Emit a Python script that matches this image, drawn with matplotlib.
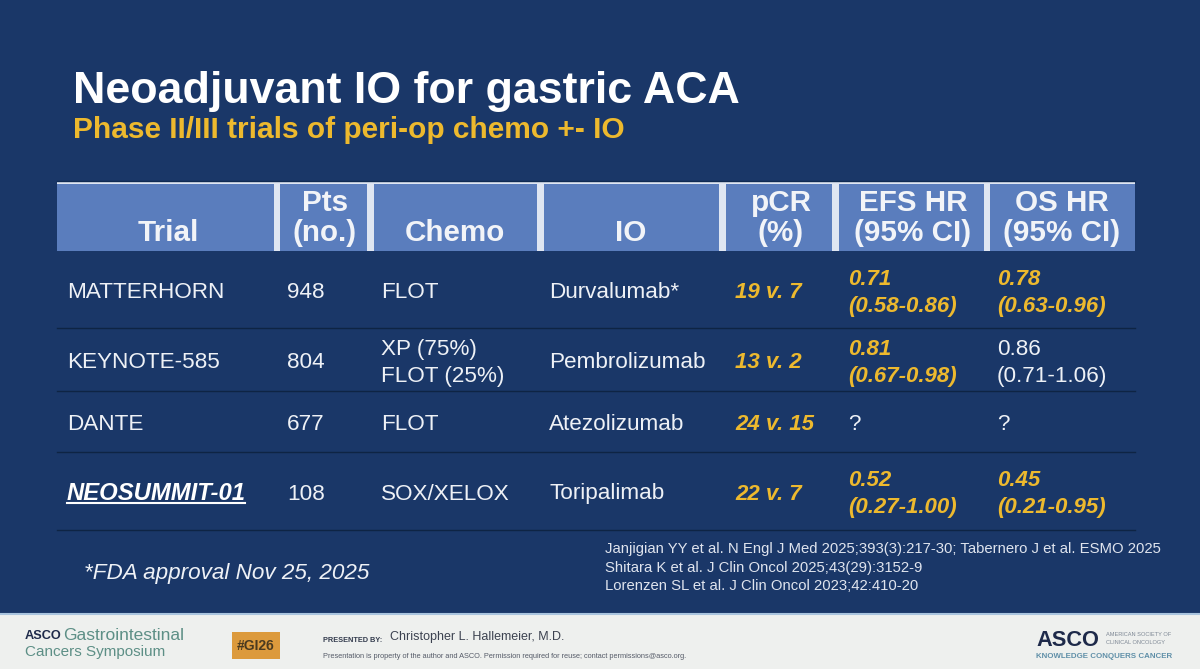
import matplotlib
matplotlib.use('Agg')
import matplotlib.pyplot as plt
from matplotlib.patches import Rectangle

plt.rcParams['font.family'] = ['Liberation Sans', 'DejaVu Sans']

BG = '#1a3768'
HEADER = '#5a7dbd'
GOLD = '#edb92e'
TEXT = '#eef1f6'

title = 'Neoadjuvant IO for gastric ACA'
subtitle = 'Phase II/III trials of peri-op chemo +- IO'

# column edges of the header band
col_left = [57, 280, 374, 544, 726, 839, 990]
col_right = [274, 367, 537, 719, 832, 984, 1135]
col_text_x = [67, 287, 381, 549, 735, 848, 997]
headers = ['Trial', 'Pts\n(no.)', 'Chemo', 'IO', 'pCR\n(%)', 'EFS HR\n(95% CI)', 'OS HR\n(95% CI)']

row_y = [293, 363, 425, 494]
row_lines = [328, 391, 452, 530]

trials = ['MATTERHORN', 'KEYNOTE-585', 'DANTE', 'NEOSUMMIT-01']
patients = ['948', '804', '677', '108']
chemo = ['FLOT', 'XP (75%)\nFLOT (25%)', 'FLOT', 'SOX/XELOX']
io = ['Durvalumab*', 'Pembrolizumab', 'Atezolizumab', 'Toripalimab']
pcr = ['19 v. 7', '13 v. 2', '24 v. 15', '22 v. 7']
efs = ['0.71\n(0.58-0.86)', '0.81\n(0.67-0.98)', '?', '0.52\n(0.27-1.00)']
os_hr = ['0.78\n(0.63-0.96)', '0.86\n(0.71-1.06)', '?', '0.45\n(0.21-0.95)']
efs_sig = [True, True, False, True]
os_sig = [True, False, False, True]

footnote = '*FDA approval Nov 25, 2025'
refs = ['Janjigian YY et al. N Engl J Med 2025;393(3):217-30; Tabernero J et al. ESMO 2025',
        'Shitara K et al. J Clin Oncol 2025;43(29):3152-9',
        'Lorenzen SL et al. J Clin Oncol 2023;42:410-20']
ref_y = [549, 568, 586]

fig = plt.figure(figsize=(12, 6.69), dpi=100, facecolor=BG)
ax = fig.add_axes([0, 0, 1, 1])
ax.set_xlim(0, 1200)
ax.set_ylim(669, 0)
ax.axis('off')

ax.text(73, 91, title, color='white', fontsize=32.2, fontweight='bold', va='center')
ax.text(73, 130, subtitle, color=GOLD, fontsize=21.5, fontweight='bold', va='center')

# header band
ax.add_patch(Rectangle((57, 182), 1078, 69, color='#dfe6f2', lw=0))
for left, right in zip(col_left, col_right):
    ax.add_patch(Rectangle((left, 184), right - left, 67, color=HEADER, lw=0))
ax.plot([57, 1135], [181, 181], color='#0f2a52', lw=1)

header_x = [168, 325, 455, 631, 781, 913, 1062]
for x, h in zip(header_x, headers):
    ax.text(x, 247, h, color='#f2f4f8', fontsize=21.3, fontweight='bold', ha='center',
            va='bottom', linespacing=1.08)

for y in row_lines:
    ax.plot([57, 1135], [y, y], color='#0e2444', lw=1)


def cell(x, y, s, gold=False):
    ax.text(x, y, s, color=GOLD if gold else TEXT, fontsize=16 if gold else 16.2, va='center',
            linespacing=1.35, fontweight='bold' if gold else 'normal',
            fontstyle='italic' if gold else 'normal')


for i, y in enumerate(row_y):
    if i == 3:
        ax.text(col_text_x[0], y, trials[i], color='white', fontsize=17.2, va='center',
                fontweight='bold', fontstyle='italic')
        ax.plot([67, 245], [y + 9, y + 9], color='white', lw=1.5)
    else:
        cell(col_text_x[0], y, trials[i])
    cell(col_text_x[1], y, patients[i])
    cell(col_text_x[2], y, chemo[i])
    cell(col_text_x[3], y, io[i])
    cell(col_text_x[4], y, pcr[i], gold=True)
    cell(col_text_x[5], y, efs[i], gold=efs_sig[i])
    cell(col_text_x[6], y, os_hr[i], gold=os_sig[i])

ax.text(84, 574, footnote, color=TEXT, fontsize=16.2, fontstyle='italic', va='center')
for y, r in zip(ref_y, refs):
    ax.text(605, y, r, color='#dfe4ee', fontsize=10.7, va='center')

# footer strip
ax.add_patch(Rectangle((0, 614), 1200, 55, color='#eef0ee', lw=0))
ax.plot([0, 1200], [614, 614], color='#a9c4de', lw=1.5)
ax.text(25, 636, 'ASCO', color='#1e2a4a', fontsize=9.2, fontweight='bold', va='center')
ax.text(63, 636, 'Gastrointestinal', color='#5d8f86', fontsize=12.5, va='center')
ax.text(25, 652, 'Cancers Symposium', color='#5d8f86', fontsize=11, va='center')
ax.add_patch(Rectangle((232, 632), 48, 27, color='#dc9a3c', lw=0))
ax.text(256, 645.5, '#GI26', color='#4a3a20', fontsize=10, fontweight='bold', ha='center', va='center')
ax.text(323, 640, 'PRESENTED BY:', color='#333b4d', fontsize=5.3, fontweight='bold', va='center')
ax.text(390, 637, 'Christopher L. Hallemeier, M.D.', color='#3c4250', fontsize=9, va='center')
ax.text(323, 656, 'Presentation is property of the author and ASCO. Permission required for reuse; contact permissions@asco.org.',
        color='#555b68', fontsize=5.3, va='center')
ax.text(1036, 641, 'ASCO', color='#1e2a4a', fontsize=15.7, fontweight='bold', va='center')
ax.text(1106, 635, 'AMERICAN SOCIETY OF', color='#7d8794', fontsize=4.1, va='center')
ax.text(1106, 643, 'CLINICAL ONCOLOGY', color='#7d8794', fontsize=4.1, va='center')
ax.text(1036, 656, 'KNOWLEDGE CONQUERS CANCER', color='#5f8fa8', fontsize=5.7, fontweight='bold', va='center')

fig.savefig('out.png', dpi=100, facecolor=BG)
